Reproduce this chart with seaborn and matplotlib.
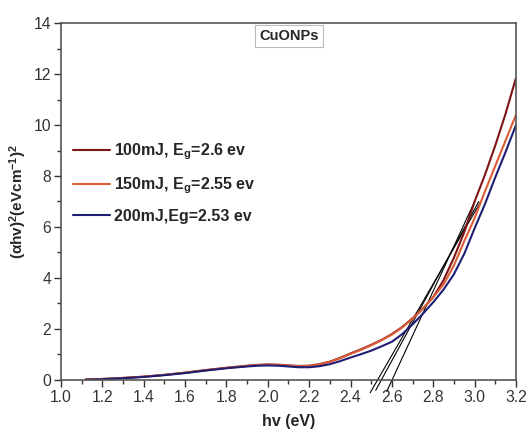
import numpy as np
import pandas as pd
import matplotlib
matplotlib.use("Agg")
import matplotlib.pyplot as plt
import seaborn as sns

# photon energy hv (eV) and (alpha*hv)^2
hv_100 = [1.12, 1.2, 1.3, 1.4, 1.5, 1.6, 1.7, 1.8, 1.9, 1.95, 2.0, 2.05, 2.1, 2.15, 2.2, 2.25,
          2.3, 2.35, 2.4, 2.45, 2.5, 2.55, 2.6, 2.65, 2.7, 2.75, 2.8, 2.85, 2.9, 2.95, 3.0,
          3.05, 3.1, 3.15, 3.2]
ahv_100 = [0.02, 0.04, 0.08, 0.13, 0.20, 0.29, 0.39, 0.48, 0.56, 0.59, 0.61, 0.60, 0.57, 0.55,
           0.56, 0.62, 0.72, 0.87, 1.04, 1.20, 1.38, 1.57, 1.80, 2.08, 2.42, 2.80, 3.25, 3.92,
           4.80, 5.80, 7.00, 8.05, 9.20, 10.45, 11.85]

hv_150 = hv_100
ahv_150 = [0.02, 0.04, 0.08, 0.13, 0.20, 0.28, 0.38, 0.47, 0.55, 0.58, 0.60, 0.59, 0.56, 0.54,
           0.55, 0.61, 0.71, 0.85, 1.02, 1.18, 1.36, 1.56, 1.78, 2.06, 2.40, 2.80, 3.25, 3.75,
           4.50, 5.45, 6.35, 7.40, 8.40, 9.40, 10.40]

hv_200 = hv_100
ahv_200 = [0.01, 0.03, 0.07, 0.12, 0.19, 0.27, 0.37, 0.46, 0.53, 0.56, 0.57, 0.56, 0.53, 0.50,
           0.50, 0.54, 0.62, 0.74, 0.88, 1.01, 1.15, 1.32, 1.50, 1.80, 2.18, 2.60, 3.05, 3.55,
           4.15, 4.95, 5.95, 6.90, 7.95, 8.95, 10.00]

labels = ["100mJ, E$_g$=2.6 ev", "150mJ, E$_g$=2.55 ev", "200mJ,Eg=2.53 ev"]
colors = ["#7d1416", "#db5c36", "#1e1f74"]

# Tauc extrapolation lines: start and end points
tan_x0 = [2.575, 2.522, 2.495]
tan_y0 = [-0.45, -0.40, -0.50]
tan_x1 = [3.00, 3.02, 3.03]
tan_y1 = [7.0, 7.0, 7.0]

df = pd.concat([
    pd.DataFrame({"hv": hv_100, "ahv": ahv_100, "sample": labels[0]}),
    pd.DataFrame({"hv": hv_150, "ahv": ahv_150, "sample": labels[1]}),
    pd.DataFrame({"hv": hv_200, "ahv": ahv_200, "sample": labels[2]}),
], ignore_index=True)

sns.set_style("ticks")
plt.rcParams["font.family"] = ["Liberation Sans", "DejaVu Sans"]
plt.rcParams["mathtext.default"] = "regular"

fig = plt.figure(figsize=(5.29, 4.30), dpi=100)
ax = fig.add_axes([0.1153, 0.1163, 0.8601, 0.8302])

sns.lineplot(data=df, x="hv", y="ahv", hue="sample", palette=colors, sort=False,
             estimator=None, linewidth=1.5, ax=ax)

for x0, y0, x1, y1 in zip(tan_x0, tan_y0, tan_x1, tan_y1):
    ax.plot([x0, x1], [y0, y1], color="black", linewidth=0.8, clip_on=False, zorder=1)

ax.set_xlim(1.0, 3.2)
ax.set_ylim(0, 14)
ax.set_xticks(np.arange(1.0, 3.21, 0.2))
ax.set_xticks(np.arange(1.1, 3.2, 0.2), minor=True)
ax.set_yticks(np.arange(0, 15, 2))
ax.set_yticks(np.arange(1, 14, 2), minor=True)
ax.xaxis.set_major_formatter(matplotlib.ticker.FormatStrFormatter("%.1f"))

ax.tick_params(axis="both", which="major", direction="out", length=5, width=1,
               labelsize=11.3, colors="#333333", pad=2)
ax.tick_params(axis="both", which="minor", direction="out", length=3, width=1, colors="#333333")
for s in ax.spines.values():
    s.set_color("#555555")
    s.set_linewidth(1.2)

ax.set_xlabel("hv (eV)", fontsize=11.5, fontweight="bold", labelpad=7)
ax.set_ylabel("(αhv)$^2$(eVcm$^{-1}$)$^2$", fontsize=11, fontweight="bold", labelpad=3)

leg = ax.legend(loc="upper left", bbox_to_anchor=(0.012, 0.685), frameon=False,
                handlelength=2.3, handletextpad=0.3, labelspacing=0.8, borderaxespad=0,
                prop={"weight": "bold", "size": 11.5})

ax.text(0.501, 0.9636, "CuONPs", transform=ax.transAxes, ha="center", va="center",
        fontsize=10.5, fontweight="bold",
        bbox=dict(boxstyle="square,pad=0.3", facecolor="white", edgecolor="#bbbbbb", linewidth=0.8))

fig.savefig("out.png", dpi=100)
